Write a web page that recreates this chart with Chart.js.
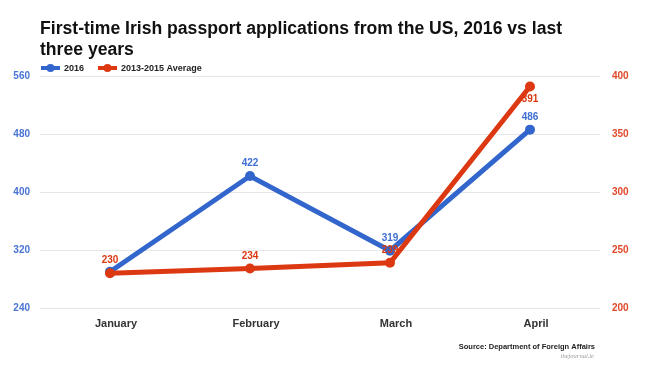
<!DOCTYPE html>
<html>
<head>
<meta charset="utf-8">
<script src="https://cdn.jsdelivr.net/npm/chart.js@4.4.1/dist/chart.umd.min.js"></script>
<style>
  html, body { margin: 0; padding: 0; background: #fff; }
  #wrap { width: 650px; height: 380px; position: relative; }
</style>
</head>
<body>
<div id="wrap"><canvas id="c" width="650" height="380"></canvas></div>
<script>
const titleLines = ["First-time Irish passport applications from the US, 2016 vs last", "three years"];
const categories = ["January", "February", "March", "April"];
const values2016 = [290, 422, 319, 486];
const valuesAvg = [230, 234, 239, 391];
const seriesNames = ["2016", "2013-2015 Average"];
const leftTicks = [240, 320, 400, 480, 560];
const rightTicks = [200, 250, 300, 350, 400];
const sourceText = "Source: Department of Foreign Affairs";
const creditText = "thejournal.ie";

const BLUE = "#3366cc";
const RED = "#dc3912";
const FONT = "Arial, 'Liberation Sans', sans-serif";

const decorPlugin = {
  id: "decor",
  afterDraw(chart) {
    const ctx = chart.ctx;
    ctx.save();
    // title
    ctx.fillStyle = "#111";
    ctx.font = "bold 17.6px " + FONT;
    ctx.textAlign = "left";
    ctx.textBaseline = "alphabetic";
    ctx.fillText(titleLines[0], 40, 34);
    ctx.fillText(titleLines[1], 40, 55);
    // legend
    const items = [{name: seriesNames[0], color: BLUE, x: 41}, {name: seriesNames[1], color: RED, x: 98}];
    const ly = 68;
    items.forEach(it => {
      ctx.strokeStyle = it.color;
      ctx.fillStyle = it.color;
      ctx.lineWidth = 4;
      ctx.beginPath();
      ctx.moveTo(it.x, ly);
      ctx.lineTo(it.x + 19, ly);
      ctx.stroke();
      ctx.beginPath();
      ctx.arc(it.x + 9.5, ly, 4, 0, Math.PI * 2);
      ctx.fill();
      ctx.fillStyle = "#222";
      ctx.font = "bold 9px " + FONT;
      ctx.textBaseline = "middle";
      ctx.fillText(it.name, it.x + 23, ly + 0.5);
    });
    // source
    ctx.textBaseline = "alphabetic";
    ctx.textAlign = "right";
    ctx.fillStyle = "#222";
    ctx.font = "bold 7.5px " + FONT;
    ctx.fillText(sourceText, 595, 349);
    ctx.fillStyle = "#999";
    ctx.font = "italic 6.5px 'Liberation Serif', serif";
    ctx.fillText(creditText, 594, 358);
    ctx.restore();
  }
};

const labelPlugin = {
  id: "pointLabels",
  afterDatasetsDraw(chart) {
    const ctx = chart.ctx;
    ctx.save();
    ctx.font = "bold 10px " + FONT;
    ctx.textAlign = "center";
    ctx.textBaseline = "middle";
    const boxes = [];
    const metaBlue = chart.getDatasetMeta(0);
    const metaRed = chart.getDatasetMeta(1);
    const order = [[1, metaRed, RED], [0, metaBlue, "#3f6fd2"]];
    order.forEach(([di, meta, color]) => {
      const other = di === 1 ? metaBlue : metaRed;
      meta.data.forEach((pt, i) => {
        const val = chart.data.datasets[di].data[i];
        const txt = String(val);
        // place label above unless this point sits far above the other series' point
        const below = di === 1 && pt.y < other.data[i].y - 20;
        const ty = below ? pt.y + 13 : pt.y - 12.5;
        const w = ctx.measureText(txt).width;
        const box = {x1: pt.x - w / 2, x2: pt.x + w / 2, y1: ty - 4, y2: ty + 4};
        const hit = boxes.some(b => !(box.x2 < b.x1 || box.x1 > b.x2 || box.y2 < b.y1 || box.y1 > b.y2));
        if (hit) return;
        boxes.push(box);
        ctx.fillStyle = color;
        ctx.fillText(txt, pt.x, ty);
      });
    });
    ctx.restore();
  }
};

new Chart(document.getElementById("c"), {
  type: "line",
  data: {
    labels: categories,
    datasets: [
      {
        label: seriesNames[0], data: values2016, yAxisID: "y",
        borderColor: BLUE, backgroundColor: BLUE, borderWidth: 5,
        pointRadius: 5, pointHoverRadius: 5, pointBackgroundColor: BLUE, pointBorderWidth: 0,
        tension: 0, order: 2
      },
      {
        label: seriesNames[1], data: valuesAvg, yAxisID: "y1",
        borderColor: RED, backgroundColor: RED, borderWidth: 5,
        pointRadius: 5, pointHoverRadius: 5, pointBackgroundColor: RED, pointBorderWidth: 0,
        tension: 0, order: 1
      }
    ]
  },
  options: {
    responsive: false,
    animation: false,
    devicePixelRatio: 1,
    layout: { padding: { top: 76, bottom: 42, left: 0, right: 0 } },
    plugins: { legend: { display: false }, title: { display: false }, tooltip: { enabled: false } },
    scales: {
      x: {
        offset: true,
        grid: { display: false, drawTicks: false },
        border: { display: false },
        ticks: { color: "#333", font: { family: FONT, size: 11, weight: "bold" }, padding: 9, labelOffset: 6 },
        afterFit(s) { s.height = 30; }
      },
      y: {
        position: "left",
        min: leftTicks[0], max: leftTicks[leftTicks.length - 1],
        afterBuildTicks(s) { s.ticks = leftTicks.map(v => ({ value: v })); },
        grid: { color: "#e6e6e6", lineWidth: 1, drawTicks: false },
        border: { display: false },
        ticks: { color: "#4a74d4", font: { family: FONT, size: 10, weight: "bold" }, padding: 10 },
        afterFit(s) { s.width = 40; }
      },
      y1: {
        position: "right",
        min: rightTicks[0], max: rightTicks[rightTicks.length - 1],
        afterBuildTicks(s) { s.ticks = rightTicks.map(v => ({ value: v })); },
        grid: { display: false, drawTicks: false },
        border: { display: false },
        ticks: { color: "#e0482a", font: { family: FONT, size: 10, weight: "bold" }, padding: 12 },
        afterFit(s) { s.width = 50; }
      }
    }
  },
  plugins: [decorPlugin, labelPlugin]
});
</script>
</body>
</html>
